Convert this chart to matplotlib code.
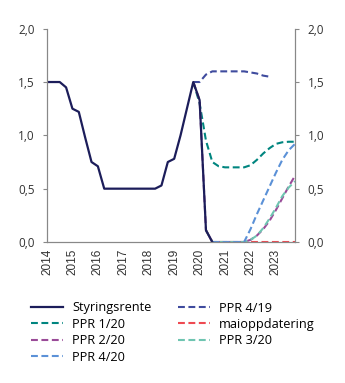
import matplotlib
matplotlib.use('Agg')
import matplotlib.pyplot as plt
import numpy as np

plt.rcParams['font.family'] = ['Open Sans', 'DejaVu Sans']

# quarterly data, 2014Q1 = index 0
start_year = 2014

styringsrente = [1.5, 1.5, 1.5, 1.45, 1.25, 1.22, 0.98, 0.75, 0.71, 0.5,
                 0.5, 0.5, 0.5, 0.5, 0.5, 0.5, 0.5, 0.5, 0.53, 0.75,
                 0.78, 1.0, 1.25, 1.5, 1.33, 0.11, 0.0]
ppr_4_19 = [1.5, 1.5, 1.57, 1.6, 1.6, 1.6, 1.6, 1.6, 1.6, 1.59, 1.58, 1.56, 1.55]
ppr_1_20 = [1.5, 1.3, 0.95, 0.75, 0.71, 0.7, 0.7, 0.7, 0.7, 0.72, 0.77, 0.83,
            0.88, 0.92, 0.935, 0.94, 0.94]
ppr_2_20 = [1.5, 1.33, 0.11, 0.0, 0.0, 0.0, 0.0, 0.0, 0.0, 0.02, 0.06, 0.12,
            0.2, 0.3, 0.41, 0.52, 0.62]
maioppdatering = [0.11, 0.0, 0.0, 0.0, 0.0, 0.0, 0.0, 0.0, 0.0, 0.0, 0.0,
                  0.0, 0.0, 0.0, 0.0]
ppr_3_20 = [0.11, 0.0, 0.0, 0.0, 0.0, 0.0, 0.0, 0.02, 0.06, 0.13, 0.22, 0.32,
            0.43, 0.51, 0.57]
ppr_4_20 = [0.0, 0.0, 0.0, 0.0, 0.0, 0.0, 0.12, 0.26, 0.39, 0.52, 0.65, 0.77,
            0.86, 0.92]

# first quarter index of each series
starts = {'Styringsrente': 0, 'PPR 4/19': 23, 'PPR 1/20': 23, 'PPR 2/20': 23,
          'maioppdatering': 25, 'PPR 3/20': 25, 'PPR 4/20': 26}

colors = {
    'Styringsrente': '#1c1d5a',
    'PPR 4/19': '#3f4b9e',
    'PPR 1/20': '#00857f',
    'PPR 2/20': '#9a4a98',
    'maioppdatering': '#ee4a52',
    'PPR 3/20': '#6fc5b1',
    'PPR 4/20': '#5b91d7',
}


def xs(name, values):
    i0 = starts[name]
    return start_year + (i0 + np.arange(len(values))) / 4


fig = plt.figure(figsize=(3.45, 3.83), dpi=100)
ax = fig.add_axes([47 / 345, 1 - 242 / 383, 248 / 345, 213.3 / 383])

dash = (0, (3.3, 1.7))
series = [
    ('PPR 4/19', ppr_4_19),
    ('maioppdatering', maioppdatering),
    ('PPR 1/20', ppr_1_20),
    ('PPR 2/20', ppr_2_20),
    ('PPR 3/20', ppr_3_20),
    ('PPR 4/20', ppr_4_20),
]
lines = {}
for name, vals in series:
    lines[name], = ax.plot(xs(name, vals), vals, color=colors[name], lw=1.5,
                           linestyle=dash, label=name)
lines['Styringsrente'], = ax.plot(xs('Styringsrente', styringsrente), styringsrente,
                                  color=colors['Styringsrente'], lw=1.6,
                                  label='Styringsrente')

ax.set_xlim(2014, 2023.75)
ax.set_ylim(0, 2.0)
ax.set_xticks(range(2014, 2024))
ax.set_xticklabels([str(y) for y in range(2014, 2024)], rotation=90,
                   family='Liberation Sans', fontsize=8.5, color='#333333')
ax.tick_params(axis='x', length=0, pad=5)
yt = [0, 0.5, 1.0, 1.5, 2.0]
ylabels = [f'{v:.1f}'.replace('.', ',') for v in yt]
ax.set_yticks(yt)
ax.set_yticklabels(ylabels, fontsize=8.5, color='#333333')
ax.tick_params(axis='y', length=3, width=0.8, color='#888888', pad=6)

ax2 = ax.twinx()
ax2.set_ylim(0, 2.0)
ax2.set_yticks(yt)
ax2.set_yticklabels(ylabels, fontsize=8.5, color='#333333')
ax2.tick_params(axis='y', length=3, width=0.8, color='#888888', pad=6)

for a in (ax, ax2):
    a.spines['top'].set_visible(False)
    for s in ('left', 'right', 'bottom'):
        a.spines[s].set_color('#888888')
        a.spines[s].set_linewidth(0.8)

order = ['Styringsrente', 'PPR 1/20', 'PPR 2/20', 'PPR 4/20',
         'PPR 4/19', 'maioppdatering', 'PPR 3/20']
fig.legend([lines[n] for n in order], order, loc='upper left',
           bbox_to_anchor=(31 / 345, 1 - 301.5 / 383), ncol=2, frameon=False,
           fontsize=9.2, handlelength=2.5, handletextpad=0.7,
           columnspacing=2.1, labelspacing=0.27, borderpad=0,
           borderaxespad=0)

fig.savefig('out.png', dpi=100)
